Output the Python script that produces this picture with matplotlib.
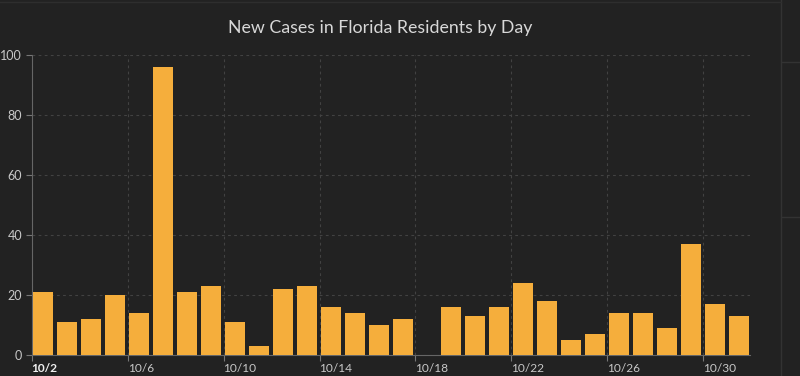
import matplotlib.pyplot as plt
from matplotlib.lines import Line2D

# daily new cases, 10/2 .. 10/31
days = [f"10/{d}" for d in range(2, 32)]
cases = [21, 11, 12, 20, 14, 96, 21, 23, 11, 3,
         22, 23, 16, 14, 10, 12, 0, 16, 13, 16,
         24, 18, 5, 7, 14, 14, 9, 37, 17, 13]
tick_days = ["10/2", "10/6", "10/10", "10/14", "10/18", "10/22", "10/26", "10/30"]
y_ticks = [0, 20, 40, 60, 80, 100]

bg = "#222222"
bar_col = "#f5ae3c"
txt_col = "#c8c8c8"
grid_col = "#424242"

plt.rcParams['font.family'] = ['Lato', 'DejaVu Sans']

fig = plt.figure(figsize=(8, 3.76), dpi=100, facecolor=bg)
ax = fig.add_axes([0.0396, 0.0559, 0.898, 0.7986], facecolor=bg)

x = list(range(len(days)))
ax.bar([i + 0.07 for i in x], cases, width=0.83, align='edge', color=bar_col, zorder=3)

ax.set_xlim(0, 29.95)
ax.set_ylim(0, 100)

tpos = [days.index(t) for t in tick_days]
ax.set_xticks(tpos)
ax.set_xticklabels(tick_days, ha='left', fontsize=8.6, color=txt_col)
ax.get_xticklabels()[0].set_fontweight('bold')
ax.get_xticklabels()[0].set_color('#f0f0f0')
ax.set_yticks(y_ticks)
ax.set_yticklabels([str(v) for v in y_ticks], fontsize=9, color=txt_col)

ax.tick_params(axis='x', length=4, width=0.8, color='#777777', pad=1.5)
ax.tick_params(axis='y', length=4, width=0.8, color='#777777', pad=3)
ax.grid(True, color=grid_col, linestyle=(0, (2.5, 3)), linewidth=0.8, zorder=0)

for s in ['top', 'right']:
    ax.spines[s].set_visible(False)
for s in ['left', 'bottom']:
    ax.spines[s].set_color('#666666')
    ax.spines[s].set_linewidth(0.8)

fig.text(0.475, 0.925, "New Cases in Florida Residents by Day", ha='center', va='center',
         fontsize=12.8, color='#d8d8d8')

# panel edges on the right
fig.add_artist(Line2D([0.976, 0.976], [0, 1], color='#333333', linewidth=1))
fig.add_artist(Line2D([0.978, 1], [0.835, 0.835], color='#333333', linewidth=1))
fig.add_artist(Line2D([0.978, 1], [0.423, 0.423], color='#333333', linewidth=1))
fig.add_artist(Line2D([0, 0.976], [0.995, 0.995], color='#2e2e2e', linewidth=1))

fig.savefig("out.png", dpi=100, facecolor=bg)
